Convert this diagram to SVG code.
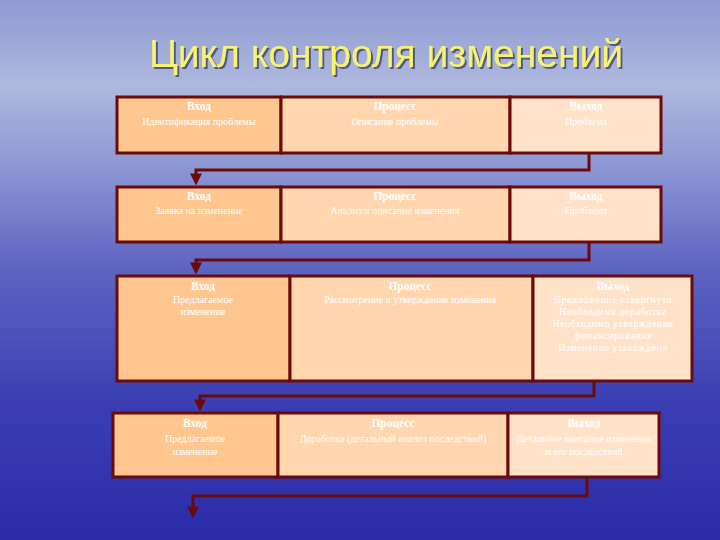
<svg xmlns="http://www.w3.org/2000/svg" width="720" height="540" viewBox="0 0 720 540">
<defs>
<linearGradient id="bg" x1="0" y1="0" x2="0" y2="1">
<stop offset="0" stop-color="#8e9ad2"/>
<stop offset="0.16" stop-color="#aeb8de"/>
<stop offset="0.32" stop-color="#8a94d2"/>
<stop offset="0.5" stop-color="#5c64c2"/>
<stop offset="0.75" stop-color="#3a3eb2"/>
<stop offset="1" stop-color="#2a2ca8"/>
</linearGradient>
<filter id="sh" x="-5%" y="-20%" width="110%" height="140%">
<feDropShadow dx="2" dy="2" stdDeviation="0.6" flood-color="#1a1a50" flood-opacity="0.6"/>
</filter>
<marker id="arr" viewBox="0 0 10 10" refX="8" refY="5" markerWidth="4" markerHeight="4" orient="auto">
<path d="M0,0 L10,5 L0,10 z" fill="#6b0a0a"/>
</marker>
<style>
.in{fill:#ffc690;stroke:#6b0a0a;stroke-width:3}
.pr{fill:#ffd6ae;stroke:#6b0a0a;stroke-width:3}
.out{fill:#ffe2c8;stroke:#6b0a0a;stroke-width:3}
.h{font-family:"Liberation Serif","DejaVu Serif",serif;font-size:11.5px;font-weight:bold;fill:#ffffff;text-anchor:middle}
.t{font-family:"Liberation Serif","DejaVu Serif",serif;font-size:10px;fill:#ffffff;text-anchor:middle}
.ts{letter-spacing:0.5px}
.c{fill:none;stroke:#6b0a0a;stroke-width:3}
.title{font-family:"Liberation Sans",Arial,sans-serif;font-size:39px;fill:#f6f272;text-anchor:middle}
</style>
</defs>
<rect width="720" height="540" fill="url(#bg)"/>
<text class="title" x="386" y="67" filter="url(#sh)">Цикл контроля изменений</text>

<g id="connectors">
<polyline class="c" points="589,153 589,170 196,170 196,183" marker-end="url(#arr)"/>
<polyline class="c" points="589,242 589,260 196,260 196,272" marker-end="url(#arr)"/>
<polyline class="c" points="594,381 594,396 200,396 200,409" marker-end="url(#arr)"/>
<polyline class="c" points="587,477 587,496 193,496 193,516" marker-end="url(#arr)"/>
</g>

<g id="row1">
<g id="r1-in"><rect class="in" x="117" y="97" width="164" height="56"/>
<text class="h" x="199" y="110">Вход</text>
<text class="t" x="199" y="125">Идентификация проблемы</text></g>
<g id="r1-pr"><rect class="pr" x="281" y="97" width="229" height="56"/>
<text class="h" x="395" y="110">Процесс</text>
<text class="t" x="395" y="125">Описание проблемы</text></g>
<g id="r1-out"><rect class="out" x="510" y="97" width="151" height="56"/>
<text class="h" x="586" y="110">Выход</text>
<text class="t" x="586" y="125">Проблема</text></g>
</g>

<g id="row2">
<g id="r2-in"><rect class="in" x="117" y="187" width="164" height="55"/>
<text class="h" x="199" y="200">Вход</text>
<text class="t" x="199" y="214">Заявка на изменение</text></g>
<g id="r2-pr"><rect class="pr" x="281" y="187" width="229" height="55"/>
<text class="h" x="395" y="200">Процесс</text>
<text class="t" x="395" y="214">Анализ и описание изменения</text></g>
<g id="r2-out"><rect class="out" x="510" y="187" width="151" height="55"/>
<text class="h" x="586" y="200">Выход</text>
<text class="t" x="586" y="214">Проблема</text></g>
</g>

<g id="row3">
<g id="r3-in"><rect class="in" x="117" y="276" width="173" height="105"/>
<text class="h" x="203" y="290">Вход</text>
<text class="t" x="203" y="303">Предлагаемое</text>
<text class="t" x="203" y="315">изменение</text></g>
<g id="r3-pr"><rect class="pr" x="290" y="276" width="243" height="105"/>
<text class="h" x="410" y="290">Процесс</text>
<text class="t" x="410" y="303">Рассмотрение и утверждение изменения</text></g>
<g id="r3-out"><rect class="out" x="533" y="276" width="159" height="105"/>
<text class="h" x="613" y="290">Выход</text>
<text class="t ts" x="613" y="303">Предложение отвергнуто</text>
<text class="t ts" x="613" y="315">Необходима доработка</text>
<text class="t ts" x="613" y="327">Необходимо утверждение</text>
<text class="t ts" x="613" y="339">финансирования</text>
<text class="t ts" x="613" y="351">Изменение утверждено</text></g>
</g>

<g id="row4">
<g id="r4-in"><rect class="in" x="113" y="413" width="165" height="64"/>
<text class="h" x="195" y="427">Вход</text>
<text class="t" x="195" y="442">Предлагаемое</text>
<text class="t" x="195" y="455">изменение</text></g>
<g id="r4-pr"><rect class="pr" x="278" y="413" width="230" height="64"/>
<text class="h" x="393" y="427">Процесс</text>
<text class="t" x="393" y="442">Доработка (детальный анализ последствий)</text></g>
<g id="r4-out"><rect class="out" x="508" y="413" width="151" height="64"/>
<text class="h" x="584" y="427">Выход</text>
<text class="t" x="584" y="442">Детальное описание изменения</text>
<text class="t" x="584" y="455">и его последствий</text></g>
</g>
</svg>
